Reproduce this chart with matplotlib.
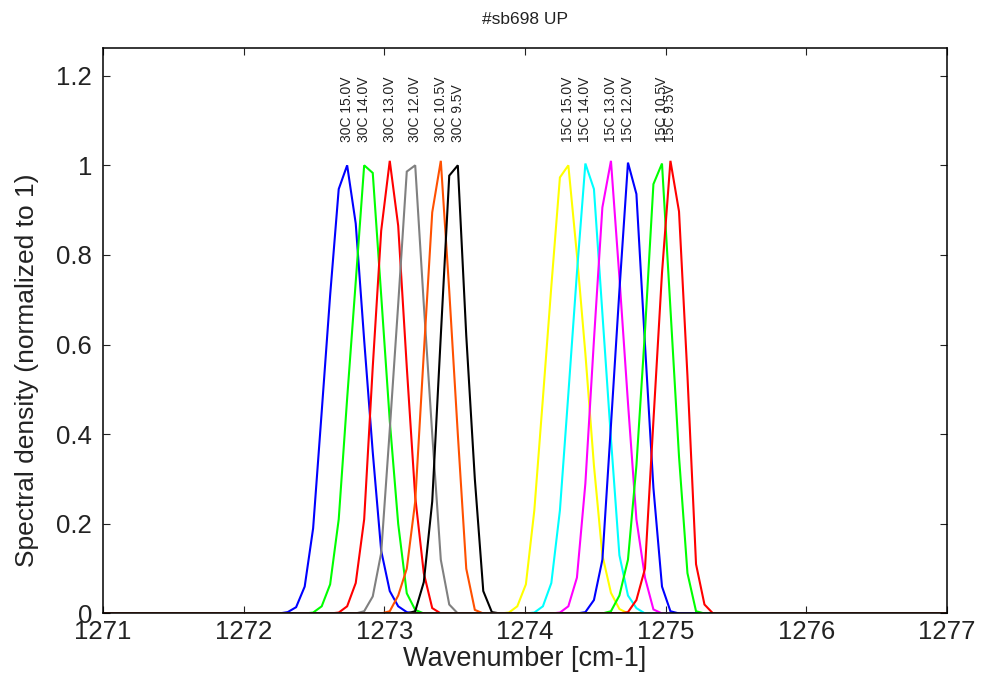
import numpy as np
import matplotlib
matplotlib.use("Agg")
import matplotlib.pyplot as plt
from matplotlib.ticker import FuncFormatter

plt.rcParams['font.family'] = ['Liberation Sans', 'DejaVu Sans']

WN = [1272.252, 1272.313, 1272.373, 1272.434, 1272.494, 1272.555, 1272.615, 1272.676,
      1272.736, 1272.797, 1272.857, 1272.918, 1272.978, 1273.039, 1273.099, 1273.160,
      1273.220, 1273.281, 1273.341, 1273.402, 1273.462, 1273.523, 1273.583, 1273.644,
      1273.704, 1273.765, 1273.825, 1273.886, 1273.946, 1274.007, 1274.067, 1274.128,
      1274.188, 1274.249, 1274.309, 1274.370, 1274.430, 1274.491, 1274.551, 1274.612,
      1274.672, 1274.733, 1274.793, 1274.854, 1274.914, 1274.975, 1275.035, 1275.096,
      1275.156, 1275.217, 1275.277, 1275.338, 1275.398]
WN_MIN, WN_MAX = 1271.0, 1277.0
GRID_OFFSET = 8  # grid index of the first WN entry is -8

labels = ["30C 15.0V", "30C 14.0V", "30C 13.0V", "30C 12.0V", "30C 10.5V", "30C 9.5V",
          "15C 15.0V", "15C 14.0V", "15C 13.0V", "15C 12.0V", "15C 10.5V", "15C 9.5V"]
colors = ["#0000ff", "#00ff00", "#ff0000", "#808080", "#ff5000", "#000000",
          "#ffff00", "#00ffff", "#ff00ff", "#0000ff", "#00ff00", "#ff0000"]

# first grid index of each non-zero segment, and its values (normalized density)
starts = [-8, -5, -2, 1, 4, 7, 18, 21, 24, 27, 30, 32]
s30_150 = [0, 0.003, 0.014, 0.06, 0.19, 0.45, 0.71, 0.947, 1.0, 0.87, 0.61, 0.36, 0.14, 0.05, 0.016, 0.003, 0]
s30_140 = [0, 0.002, 0.016, 0.065, 0.21, 0.48, 0.74, 1.0, 0.983, 0.71, 0.43, 0.20, 0.045, 0.008, 0]
s30_130 = [0, 0.002, 0.016, 0.068, 0.21, 0.55, 0.854, 1.01, 0.865, 0.55, 0.26, 0.09, 0.012, 0]
s30_120 = [0, 0.005, 0.038, 0.135, 0.41, 0.69, 0.986, 1.0, 0.69, 0.40, 0.12, 0.02, 0]
s30_105 = [0, 0.005, 0.04, 0.10, 0.25, 0.58, 0.895, 1.01, 0.72, 0.40, 0.10, 0.008, 0]
s30_095 = [0, 0.005, 0.07, 0.25, 0.62, 0.977, 1.0, 0.62, 0.30, 0.05, 0.003, 0]
s15_150 = [0, 0.002, 0.016, 0.065, 0.23, 0.48, 0.73, 0.973, 1.0, 0.80, 0.58, 0.33, 0.13, 0.046, 0.01, 0]
s15_140 = [0, 0.002, 0.016, 0.068, 0.23, 0.49, 0.76, 1.004, 0.947, 0.67, 0.39, 0.13, 0.04, 0.012, 0]
s15_130 = [0, 0.002, 0.016, 0.08, 0.29, 0.61, 0.906, 1.01, 0.75, 0.47, 0.21, 0.08, 0.009, 0]
s15_120 = [0, 0.003, 0.03, 0.12, 0.42, 0.72, 1.006, 0.936, 0.60, 0.28, 0.06, 0.005, 0]
s15_105 = [0, 0.005, 0.04, 0.12, 0.33, 0.63, 0.958, 1.004, 0.68, 0.35, 0.09, 0.005, 0]
s15_095 = [0, 0.003, 0.03, 0.10, 0.43, 0.76, 1.01, 0.897, 0.53, 0.11, 0.02, 0]
series = [s30_150, s30_140, s30_130, s30_120, s30_105, s30_095,
          s15_150, s15_140, s15_130, s15_120, s15_105, s15_095]

xticks = [1271, 1272, 1273, 1274, 1275, 1276, 1277]
yticks = [0, 0.2, 0.4, 0.6, 0.8, 1.0, 1.2]

fig = plt.figure(figsize=(9.86, 6.79), dpi=100)
ax = fig.add_axes([0.1045, 0.0965, 0.8557, 0.8333])

wn = np.array(WN)
for lab, col, st, vals in zip(labels, colors, starts, series):
    y = np.zeros(len(wn))
    p = st + GRID_OFFSET
    y[p:p + len(vals)] = vals
    x_full = np.concatenate([[WN_MIN], wn, [WN_MAX]])
    y_full = np.concatenate([[0.0], y, [0.0]])
    ax.plot(x_full, y_full, color=col, lw=1.5, solid_joinstyle='miter')
    k = int(np.argmax(y))
    ax.text(wn[k], 1.052, lab, rotation=90, ha='center', va='bottom',
            fontsize=10, color='#222222')

ax.set_xlim(WN_MIN, WN_MAX)
ax.set_ylim(0, 1.2625)
ax.set_xticks(xticks)
ax.set_yticks(yticks)
ax.yaxis.set_major_formatter(FuncFormatter(lambda v, p: f"{v:g}"))
ax.tick_params(direction='in', length=5, width=0.8, labelsize=18.5,
               top=True, right=True, colors='#222222')
ax.tick_params(axis='x', pad=5)
ax.tick_params(axis='y', pad=8)
for s in ax.spines.values():
    s.set_linewidth(1.1)
    s.set_color('black')

ax.set_xlabel("Wavenumber [cm-1]", fontsize=19.5, color='#222222', labelpad=1)
ax.set_ylabel("Spectral density (normalized to 1)", fontsize=19, color='#222222')
ax.yaxis.set_label_coords(-0.076, 0.43)
ax.set_title("#sb698 UP", fontsize=12.5, color='#222222', pad=17)

fig.savefig("out.png", dpi=100)
